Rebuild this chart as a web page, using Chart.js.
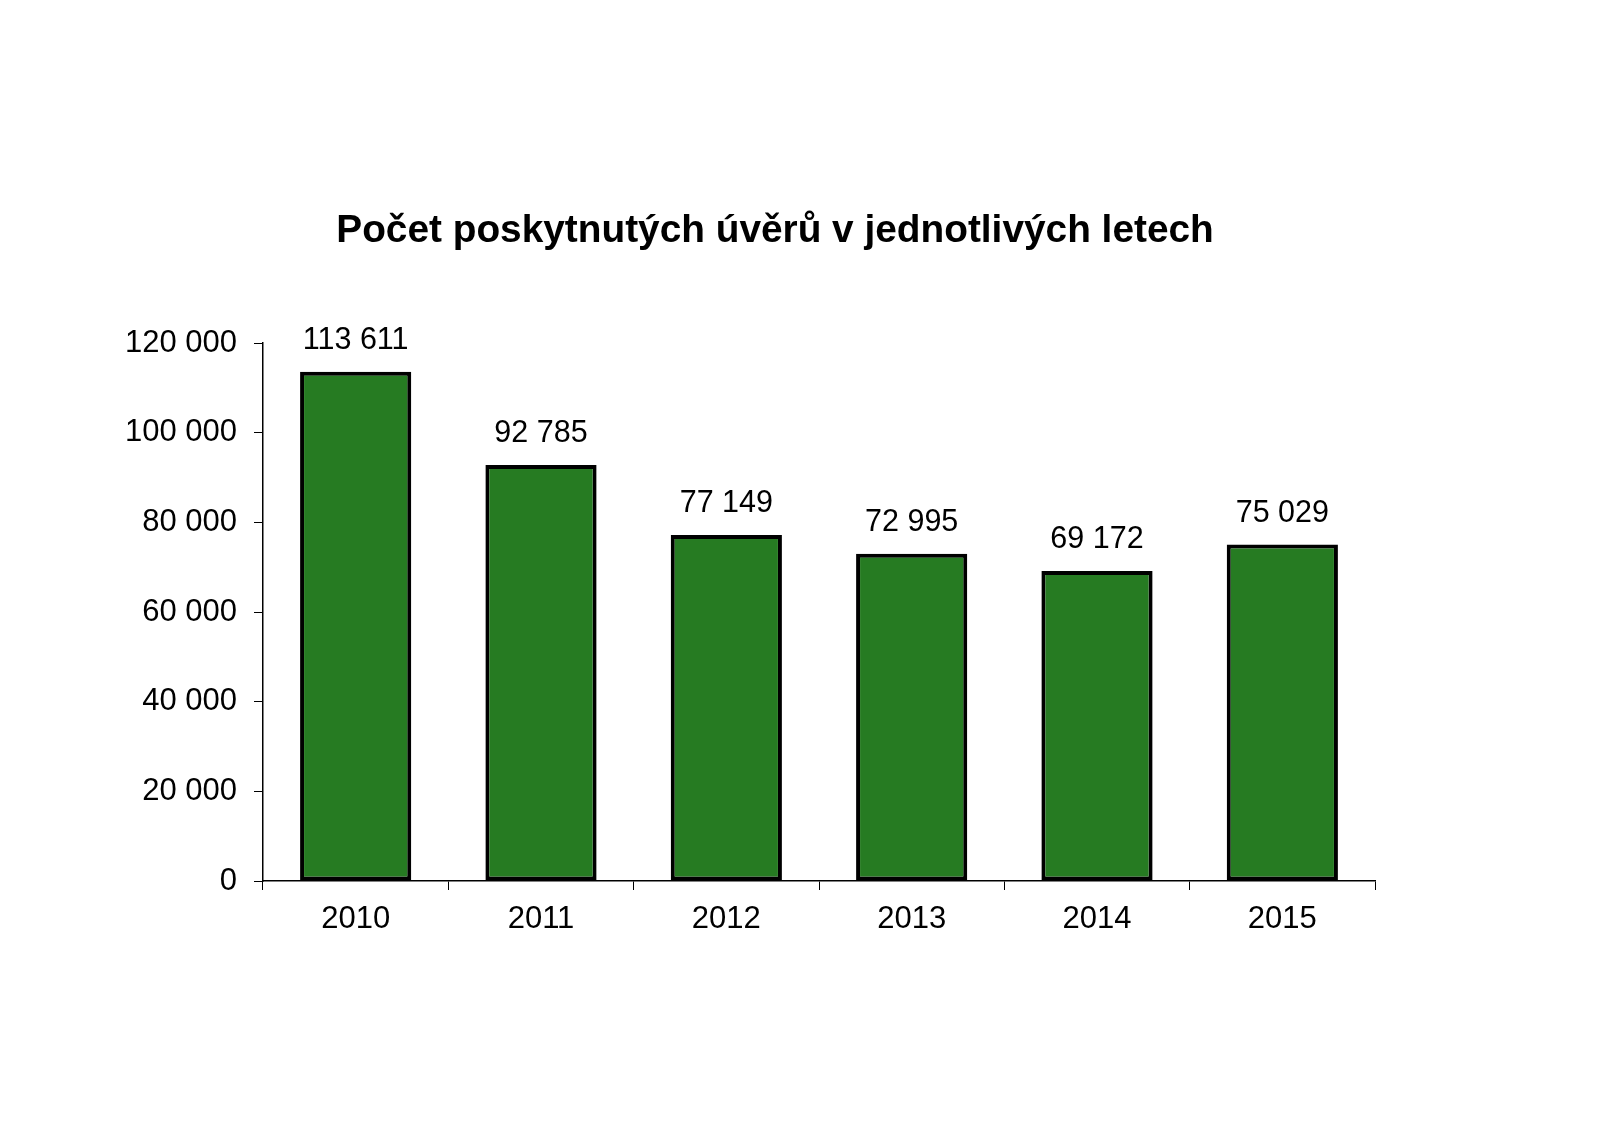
<!DOCTYPE html>
<html>
<head>
<meta charset="utf-8">
<script src="https://cdn.jsdelivr.net/npm/chart.js@4"></script>
<style>
html,body{margin:0;padding:0;background:#fff;}
#wrap{width:1600px;height:1131px;}
</style>
</head>
<body>
<div id="wrap"><canvas id="c" width="1600" height="1131"></canvas></div>
<script>
const titleText = "Počet poskytnutých úvěrů v jednotlivých letech";
const years = ["2010", "2011", "2012", "2013", "2014", "2015"];
const loans = [113611, 92785, 77149, 72995, 69172, 75029];
const yTicks = [0, 20000, 40000, 60000, 80000, 100000, 120000];

const FONT = "'Liberation Sans', Arial, sans-serif";
const fmt = v => String(v).replace(/\B(?=(\d{3})+(?!\d))/g, " ");

const titlePlugin = {
  id: 'customTitle',
  afterDraw(chart) {
    const ctx = chart.ctx;
    ctx.save();
    ctx.fillStyle = '#000';
    ctx.font = "bold 38.8px " + FONT;
    ctx.textAlign = 'center';
    ctx.textBaseline = 'alphabetic';
    ctx.fillText(titleText, 775, 242);
    ctx.restore();
  }
};

const valueLabels = {
  id: 'valueLabels',
  afterDatasetsDraw(chart) {
    const ctx = chart.ctx;
    const meta = chart.getDatasetMeta(0);
    ctx.save();
    ctx.fillStyle = '#000';
    ctx.font = "30.5px " + FONT;
    ctx.textAlign = 'center';
    ctx.textBaseline = 'alphabetic';
    meta.data.forEach((bar, i) => {
      ctx.fillText(fmt(loans[i]), bar.x, bar.y - 23);
    });
    ctx.restore();
  }
};

new Chart(document.getElementById('c'), {
  type: 'bar',
  data: {
    labels: years,
    datasets: [{
      data: loans,
      backgroundColor: '#267B22',
      borderColor: '#000',
      borderWidth: 4,
      borderSkipped: false,
      categoryPercentage: 0.6,
      barPercentage: 1.0
    }]
  },
  options: {
    responsive: false,
    animation: false,
    devicePixelRatio: 1,
    layout: { padding: { top: 343, left: 63, right: 225, bottom: 150 } },
    plugins: { legend: { display: false }, title: { display: false }, tooltip: { enabled: false } },
    scales: {
      x: {
        afterFit(scale) { scale.height = 100; },
        grid: { display: true, drawOnChartArea: false, drawTicks: true, tickLength: 9, color: '#000', lineWidth: 1, offset: true },
        border: { display: true, color: '#000', width: 1.5 },
        ticks: { color: '#000', font: { size: 31, family: FONT }, padding: 11 }
      },
      y: {
        min: 0, max: 120000,
        afterFit(scale) { scale.width = 200; },
        afterBuildTicks(scale) { scale.ticks = yTicks.map(v => ({ value: v })); },
        grid: { display: true, drawOnChartArea: false, drawTicks: true, tickLength: 9, color: '#000', lineWidth: 1 },
        border: { display: true, color: '#000', width: 1.5 },
        ticks: { color: '#000', font: { size: 31, family: FONT }, padding: 17, callback: v => fmt(v) }
      }
    }
  },
  plugins: [titlePlugin, valueLabels]
});
</script>
</body>
</html>
